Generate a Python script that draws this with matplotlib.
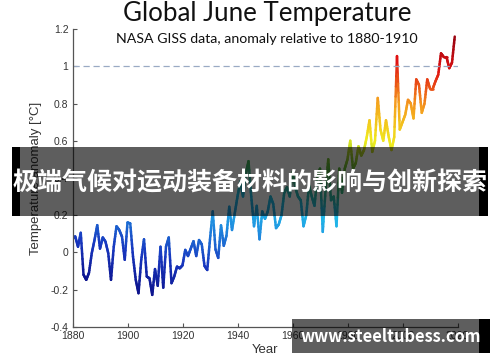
import numpy as np
import matplotlib
matplotlib.use("Agg")
import matplotlib.pyplot as plt
from matplotlib.collections import LineCollection
from matplotlib.colors import LinearSegmentedColormap
from matplotlib.patches import Rectangle

# June anomaly (deg C) relative to 1880-1910
years = np.arange(1880, 2020)
anomaly = [
    0.075, 0.085, 0.03, 0.105, -0.12, -0.148, -0.11, -0.005, 0.066, 0.146,
    0.02, 0.08, 0.057, -0.005, -0.148, 0.03, 0.14, 0.12, 0.084, -0.04,
    0.16, 0.155, -0.023, -0.148, -0.22, -0.04, 0.07, -0.13, -0.14, -0.229,
    -0.09, -0.18, 0.03, -0.19, 0.03, 0.08, -0.166, -0.13, -0.077, -0.086,
    -0.07, 0.013, -0.02, 0.02, 0.06, -0.02, 0.066, 0.043, -0.073, -0.095,
    0.07, 0.22, 0.016, -0.03, 0.145, 0.035, 0.09, 0.245, 0.12, 0.21,
    0.30, 0.38, 0.30, 0.42, 0.49, 0.30, 0.14, 0.25, 0.07, 0.22,
    0.18, 0.22, 0.30, 0.26, 0.13, 0.15, 0.20, 0.32, 0.35, 0.30,
    0.43, 0.35, 0.30, 0.28, 0.14, 0.20, 0.36, 0.30, 0.25, 0.40,
    0.45, 0.11, 0.33, 0.50, 0.28, 0.30, 0.14, 0.45, 0.32, 0.45,
    0.50, 0.60, 0.45, 0.48, 0.57, 0.52, 0.55, 0.62, 0.71, 0.54,
    0.60, 0.83, 0.66, 0.60, 0.71, 0.62, 0.55, 0.62, 1.055, 0.66,
    0.70, 0.74, 0.82, 0.80, 0.72, 0.93, 0.90, 0.75, 0.80, 0.93,
    0.88, 0.88, 0.92, 0.955, 1.07, 1.05, 1.05, 0.99, 1.02, 1.16,
]
ref_level = 1.0
xticks = [1880, 1900, 1920, 1940, 1960, 1980, 2000, 2020]
yticks = [-0.4, -0.2, 0, 0.2, 0.4, 0.6, 0.8, 1, 1.2]

title = "Global June Temperature"
subtitle = "NASA GISS data, anomaly relative to 1880-1910"
banner = "极端气候对运动装备材料的影响与创新探索"
watermark = "www.steeltubess.com"

line_cmap = LinearSegmentedColormap.from_list("warm", [
    (0.0, "#0a0a80"), (0.15, "#1838c0"), (0.28, "#1f8ee0"), (0.38, "#22bfea"),
    (0.5, "#4aae3c"), (0.62, "#f0ec1e"), (0.75, "#f59a1e"), (0.87, "#e01212"),
    (1.0, "#8a0010")])

fig = plt.figure(figsize=(5, 3.62), dpi=100)
ax = fig.add_axes([0.145, 0.0975, 0.77, 0.822])

# gradient line: split each straight segment into short pieces so the
# colour can change along it (the line itself is unchanged)
vals = np.array(anomaly)
x = years.astype(float)
steps = np.linspace(0, 1, 9)
segs, cvals = [], []
for i in range(len(x) - 1):
    xs = x[i] + steps * (x[i + 1] - x[i])
    ys = vals[i] + steps * (vals[i + 1] - vals[i])
    for j in range(len(steps) - 1):
        segs.append([(xs[j], ys[j]), (xs[j + 1], ys[j + 1])])
        xm = (xs[j] + xs[j + 1]) / 2
        ym = (ys[j] + ys[j + 1]) / 2
        # colour follows the value, drifting warmer with time like the original
        cvals.append(ym + 0.003 * (xm - x[0]))
lc = LineCollection(segs, cmap=line_cmap, norm=plt.Normalize(-0.2, 1.62),
                    linewidth=1.8, capstyle="round", joinstyle="round")
lc.set_array(np.array(cvals))
ax.add_collection(lc)

ax.plot([xticks[0], xticks[-1]], [ref_level, ref_level], color="#9aaac4",
        linestyle=(0, (5, 3)), linewidth=0.9)

ax.set_xlim(1880, 2020)
ax.set_ylim(-0.4, 1.2)
ax.set_xticks(xticks)
ax.set_yticks(yticks)
ax.set_yticklabels(["%g" % t for t in yticks])
for s in ["top", "right"]:
    ax.spines[s].set_visible(False)
for s in ["left", "bottom"]:
    ax.spines[s].set_color("#555555")
    ax.spines[s].set_linewidth(0.9)
ax.tick_params(direction="in", length=3, width=0.8, color="#555555",
               labelsize=7.5, labelcolor="#333333", pad=3)
for lab in ax.get_xticklabels() + ax.get_yticklabels():
    lab.set_family("Liberation Sans")
ax.set_xlabel("Year", fontsize=9.5, family="Liberation Sans", color="#333333", labelpad=2)
ax.set_ylabel("Temperature anomaly [°C]", fontsize=9.5, family="Liberation Sans",
              color="#333333", labelpad=6)

fig.text(0.535, 0.964, title, ha="center", va="center", fontsize=18.6,
         family="Lato", color="#111111")
fig.text(0.534, 0.892, subtitle, ha="center", va="center", fontsize=10.2,
         family="Lato", color="#111111")

# overlay banner
fig.patches.append(Rectangle((0.024, 0.403), 0.952, 0.191, transform=fig.transFigure,
                             facecolor="black", alpha=0.63, edgecolor="none", zorder=5))
fig.patches.append(Rectangle((0.024, 0.403), 0.016, 0.191, transform=fig.transFigure,
                             facecolor="black", edgecolor="none", zorder=6))
fig.patches.append(Rectangle((0.958, 0.403), 0.018, 0.191, transform=fig.transFigure,
                             facecolor="black", edgecolor="none", zorder=6))
fig.text(0.5, 0.494, banner, ha="center", va="center", fontsize=18, color="white",
         weight="bold", family=["Noto Sans CJK SC", "DejaVu Sans"], zorder=7)

# watermark
fig.patches.append(Rectangle((0.584, 0.025), 0.374, 0.094, transform=fig.transFigure,
                             facecolor="black", alpha=0.63, edgecolor="none", zorder=5))
fig.patches.append(Rectangle((0.958, 0.025), 0.022, 0.094, transform=fig.transFigure,
                             facecolor="black", edgecolor="none", zorder=6))
fig.text(0.781, 0.069, watermark, ha="center", va="center", fontsize=11.8, color="white",
         weight="bold", family=["Noto Sans CJK SC", "DejaVu Sans"], zorder=7)

fig.savefig("out.png", dpi=100)
